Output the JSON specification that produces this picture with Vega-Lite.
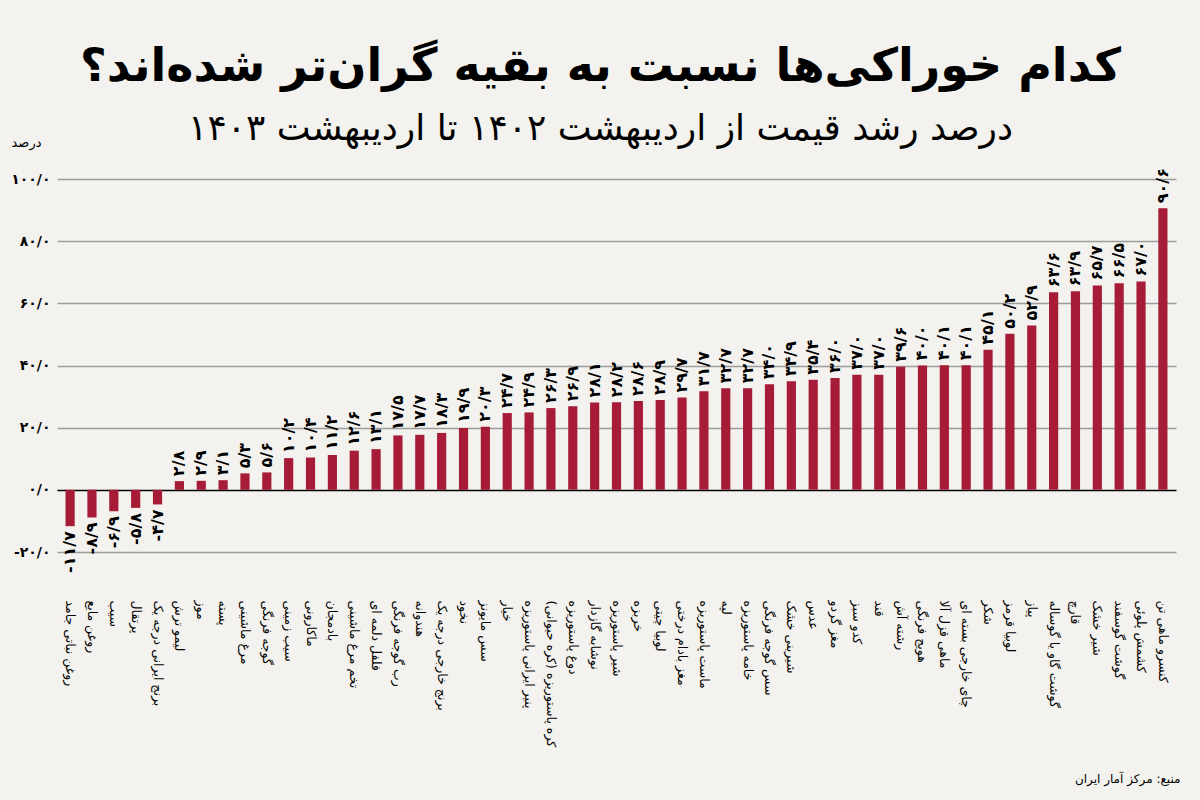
{
  "$schema": "https://vega.github.io/schema/vega-lite/v6.json",
  "width": 1119,
  "height": 373,
  "autosize": "none",
  "padding": {"left": 57, "top": 179, "right": 24, "bottom": 248},
  "background": "#f3f2ee",
  "title": {
    "text": "کدام خوراکی‌ها نسبت به بقیه گران‌تر شده‌اند؟",
    "subtitle": "درصد رشد قیمت از اردیبهشت ۱۴۰۲ تا اردیبهشت ۱۴۰۳",
    "anchor": "middle",
    "dx": -16,
    "offset": -12,
    "font": "DejaVu Sans",
    "fontSize": 46,
    "fontWeight": "bold",
    "color": "#000000",
    "subtitleFont": "DejaVu Sans",
    "subtitleFontSize": 36,
    "subtitleColor": "#000000",
    "subtitlePadding": 21
  },
  "config": {
    "view": {"stroke": null},
    "font": "DejaVu Sans"
  },
  "data": {
    "values": [
      {"name": "روغن نباتی جامد", "value": -11.7, "label": "-۱۱/۷"},
      {"name": "روغن مایع", "value": -8.9, "label": "-۸/۹"},
      {"name": "سیب", "value": -6.9, "label": "-۶/۹"},
      {"name": "پرتقال", "value": -5.8, "label": "-۵/۸"},
      {"name": "برنج ایرانی درجه یک", "value": -4.7, "label": "-۴/۷"},
      {"name": "لیمو ترش", "value": 2.8, "label": "۲/۸"},
      {"name": "موز", "value": 2.9, "label": "۲/۹"},
      {"name": "پسته", "value": 3.1, "label": "۳/۱"},
      {"name": "مرغ ماشینی", "value": 5.3, "label": "۵/۳"},
      {"name": "گوجه فرنگی", "value": 5.6, "label": "۵/۶"},
      {"name": "سیب زمینی", "value": 10.2, "label": "۱۰/۲"},
      {"name": "ماکارونی", "value": 10.4, "label": "۱۰/۴"},
      {"name": "بادمجان", "value": 11.2, "label": "۱۱/۲"},
      {"name": "تخم مرغ ماشینی", "value": 12.6, "label": "۱۲/۶"},
      {"name": "فلفل دلمه ای", "value": 13.1, "label": "۱۳/۱"},
      {"name": "رب گوجه فرنگی", "value": 17.5, "label": "۱۷/۵"},
      {"name": "هندوانه", "value": 17.7, "label": "۱۷/۷"},
      {"name": "برنج خارجی درجه یک", "value": 18.3, "label": "۱۸/۳"},
      {"name": "نخود", "value": 19.9, "label": "۱۹/۹"},
      {"name": "سس مایونز", "value": 20.3, "label": "۲۰/۳"},
      {"name": "خیار", "value": 24.7, "label": "۲۴/۷"},
      {"name": "پنیر ایرانی پاستوریزه", "value": 24.9, "label": "۲۴/۹"},
      {"name": "کره پاستوریزه (کره حیوانی)", "value": 26.3, "label": "۲۶/۳"},
      {"name": "دوغ پاستوریزه", "value": 26.9, "label": "۲۶/۹"},
      {"name": "نوشابه گازدار", "value": 28.1, "label": "۲۸/۱"},
      {"name": "شیر پاستوریزه", "value": 28.2, "label": "۲۸/۲"},
      {"name": "خربزه", "value": 28.6, "label": "۲۸/۶"},
      {"name": "لوبیا چیتی", "value": 28.9, "label": "۲۸/۹"},
      {"name": "مغز بادام درختی", "value": 29.7, "label": "۲۹/۷"},
      {"name": "ماست پاستوریزه", "value": 31.7, "label": "۳۱/۷"},
      {"name": "لپه", "value": 32.7, "label": "۳۲/۷"},
      {"name": "خامه پاستوریزه", "value": 32.7, "label": "۳۲/۷"},
      {"name": "سس گوجه فرنگی", "value": 34.0, "label": "۳۴/۰"},
      {"name": "شیرینی خشک", "value": 34.9, "label": "۳۴/۹"},
      {"name": "عدس", "value": 35.4, "label": "۳۵/۴"},
      {"name": "مغز گردو", "value": 36.0, "label": "۳۶/۰"},
      {"name": "کدو سبز", "value": 37.0, "label": "۳۷/۰"},
      {"name": "قند", "value": 37.0, "label": "۳۷/۰"},
      {"name": "رشته آش", "value": 39.6, "label": "۳۹/۶"},
      {"name": "هویج فرنگی", "value": 40.0, "label": "۴۰/۰"},
      {"name": "ماهی قزل آلا", "value": 40.1, "label": "۴۰/۱"},
      {"name": "چای خارجی بسته ای", "value": 40.1, "label": "۴۰/۱"},
      {"name": "شکر", "value": 45.1, "label": "۴۵/۱"},
      {"name": "لوبیا قرمز", "value": 50.2, "label": "۵۰/۲"},
      {"name": "پیاز", "value": 52.9, "label": "۵۲/۹"},
      {"name": "گوشت گاو یا گوساله", "value": 63.6, "label": "۶۳/۶"},
      {"name": "قارچ", "value": 63.9, "label": "۶۳/۹"},
      {"name": "شیر خشک", "value": 65.7, "label": "۶۵/۷"},
      {"name": "گوشت گوسفند", "value": 66.5, "label": "۶۶/۵"},
      {"name": "کشمش پلوئی", "value": 67.0, "label": "۶۷/۰"},
      {"name": "کنسرو ماهی تن", "value": 90.6, "label": "۹۰/۶"}
    ]
  },
  "encoding": {
    "x": {
      "field": "name",
      "type": "nominal",
      "sort": null,
      "scale": {"paddingInner": 0.58, "paddingOuter": 0.39},
      "axis": {
        "title": "منبع: مرکز آمار ایران",
        "titleFont": "DejaVu Sans",
        "titleFontSize": 12,
        "titleFontWeight": "normal",
        "titleColor": "#000000",
        "titleAnchor": "end",
        "titleAlign": "right",
        "titleBaseline": "middle",
        "titleX": 1123,
        "titleY": 226,
        "labelAngle": 90,
        "labelAlign": "left",
        "labelBaseline": "middle",
        "labelPadding": 48,
        "labelFont": "DejaVu Sans",
        "labelFontSize": 12.5,
        "labelColor": "#000000",
        "labelLimit": 300,
        "labelOverlap": false,
        "ticks": false,
        "domain": false,
        "grid": false
      }
    },
    "y": {
      "field": "value",
      "type": "quantitative",
      "scale": {"domain": [-20, 100], "nice": false, "zero": false},
      "axis": {
        "values": [-20, 0, 20, 40, 60, 80, 100],
        "title": "درصد",
        "titleAngle": 0,
        "titleAlign": "center",
        "titleBaseline": "middle",
        "titleX": -31,
        "titleY": -37,
        "titleFont": "DejaVu Sans",
        "titleFontSize": 13,
        "titleFontWeight": "normal",
        "titleColor": "#000000",
        "labelExpr": "replace(replace(replace(replace(replace(replace(replace(replace(format(datum.value, '.1f'), '.', '/'), '−', '-'), regexp('0', 'g'), '۰'), regexp('1', 'g'), '۱'), regexp('2', 'g'), '۲'), regexp('4', 'g'), '۴'), regexp('6', 'g'), '۶'), regexp('8', 'g'), '۸')",
        "labelFont": "DejaVu Sans",
        "labelFontSize": 14,
        "labelFontWeight": "bold",
        "labelColor": "#000000",
        "labelPadding": 7,
        "ticks": false,
        "domain": false,
        "grid": true,
        "gridColor": {"condition": {"test": "datum.value === 0", "value": "#000000"}, "value": "#9c9c9c"},
        "gridWidth": 1.6
      }
    }
  },
  "layer": [
    {
      "mark": {"type": "bar", "color": "#a61b36"}
    },
    {
      "transform": [{"filter": "datum.value >= 0"}],
      "mark": {
        "type": "text",
        "angle": 270,
        "align": "left",
        "baseline": "middle",
        "dx": 5,
        "font": "DejaVu Sans",
        "fontSize": 16,
        "fontWeight": "bold",
        "color": "#000000"
      },
      "encoding": {"text": {"field": "label"}}
    },
    {
      "transform": [{"filter": "datum.value < 0"}],
      "mark": {
        "type": "text",
        "angle": 270,
        "align": "right",
        "baseline": "middle",
        "dx": -5,
        "font": "DejaVu Sans",
        "fontSize": 16,
        "fontWeight": "bold",
        "color": "#000000"
      },
      "encoding": {"text": {"field": "label"}}
    }
  ]
}
